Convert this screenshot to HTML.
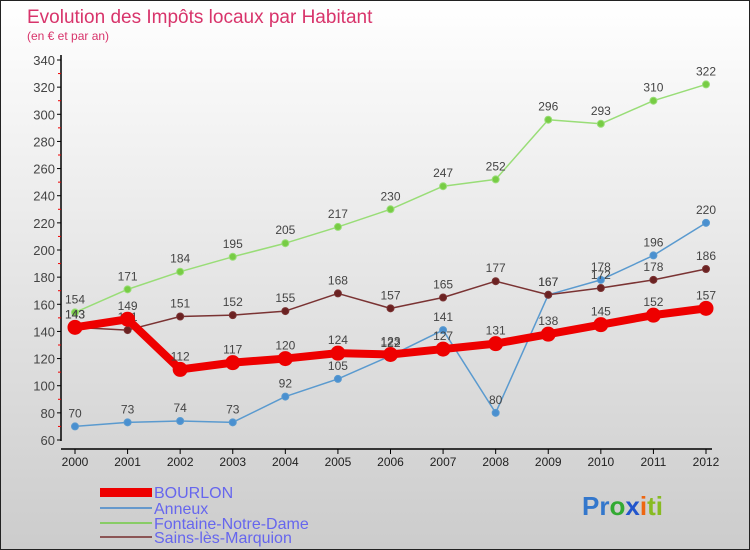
<!DOCTYPE html>
<html><head><meta charset="utf-8"><style>
body{margin:0}
#c{width:750px;height:550px;position:relative;overflow:hidden;font-family:"Liberation Sans",sans-serif}
</style></head><body>
<div id="c">
<svg width="750" height="550" id="svg">
<defs><linearGradient id="bg" x1="0" y1="0" x2="0" y2="1"><stop offset="0" stop-color="#ffffff"/><stop offset="1" stop-color="#cccccc"/></linearGradient></defs>
<rect x="0.5" y="0.5" width="749" height="549" fill="url(#bg)" stroke="#222"/>
<text x="27" y="23" font-size="19" fill="#d8346b">Evolution des Impôts locaux par Habitant</text>
<text x="27" y="40" font-size="12" fill="#d8346b">(en € et par an)</text>
<g id="axes"></g>
<g id="series"></g>
<g font-size="16" fill="#6666ee">
<rect x="100" y="488" width="52" height="9" fill="#ee0000"/>
<text x="154" y="498">BOURLON</text>
<rect x="100" y="507" width="52" height="2" fill="#6699cc"/>
<text x="154" y="514">Anneux</text>
<rect x="100" y="522" width="52" height="2" fill="#88cc66"/>
<text x="154" y="529">Fontaine-Notre-Dame</text>
<rect x="100" y="536" width="52" height="2" fill="#8b5555"/>
<text x="154" y="543">Sains-lès-Marquion</text>
</g>
<g font-size="26" font-weight="bold">
<text x="582" y="515"><tspan fill="#3377cc">Pr</tspan><tspan fill="#33aa33">o</tspan><tspan fill="#2255cc">x</tspan><tspan fill="#ee6611">i</tspan><tspan fill="#88bb22">ti</tspan></text>
</g>
</svg>
</div>
<script>
const years=["2000","2001","2002","2003","2004","2005","2006","2007","2008","2009","2010","2011","2012"];
const bourlon=[143,149,112,117,120,124,123,127,131,138,145,152,157];
const anneux=[70,73,74,73,92,105,122,141,80,167,178,196,220];
const fontaine=[154,171,184,195,205,217,230,247,252,296,293,310,322];
const sains=[143,141,151,152,155,168,157,165,177,167,172,178,186];
const yTicks=[60,80,100,120,140,160,180,200,220,240,260,280,300,320,340];
const NS="http://www.w3.org/2000/svg";
function X(i){return 75+i*(706-75)/(years.length-1);}
function Y(v){return 440-(v-60)*380/280;}
function mk(tag,attrs,parent){const e=document.createElementNS(NS,tag);for(const k in attrs)e.setAttribute(k,attrs[k]);parent.appendChild(e);return e;}
const ax=document.getElementById('axes');
let l=mk('line',{x1:61,y1:55,x2:61,y2:441,stroke:'#000','stroke-width':1.5},ax);


l=mk('line',{x1:61,y1:449,x2:712,y2:449,stroke:'#000','stroke-width':1.5},ax);


yTicks.forEach(v=>{
 const t=mk('line',{x1:57,y1:Y(v),x2:61,y2:Y(v),stroke:'#000'},ax);
 
 
 if(v<340){const m=mk('line',{x1:58,y1:Y(v+10),x2:61,y2:Y(v+10),stroke:'#e00'},ax);
 
 }
 const tx=mk('text',{x:55,y:Y(v)+5,'text-anchor':'end','font-size':13,fill:'#444'},ax);
 tx.textContent=v;
 
 
});
years.forEach((y,i)=>{
 const t=mk('line',{x1:X(i),y1:449,x2:X(i),y2:454,stroke:'#000'},ax);
 
 
 const tx=mk('text',{x:X(i),y:466,'text-anchor':'middle','font-size':12,fill:'#222'},ax);
 tx.textContent=y;
 
 
});
const sg=document.getElementById('series');
function series(data,name,color,dot,w,r){
 const g=mk('g',{},sg);
 
 
 const p=mk('polyline',{points:data.map((v,i)=>X(i)+','+Y(v)).join(' '),fill:'none',stroke:color,'stroke-width':w,'stroke-linejoin':'round'},g);
 
 
 data.forEach((v,i)=>{
  const c=mk('circle',{cx:X(i),cy:Y(v),r:r,fill:dot,stroke:color,'stroke-width':1},g);
  
  
  const t=mk('text',{x:X(i),y:Y(v)-9,'text-anchor':'middle','font-size':12,fill:'#444'},g);
  t.textContent=v;
  
  
 });
}
series(anneux,'anneux','#5a9acf','#4a90d0',1.5,3.5);
series(fontaine,'fontaine','#99dd77','#77cc44',1.5,3.5);
series(sains,'sains','#7a3333','#6b2222',1.5,3.5);
series(bourlon,'bourlon','#ee0000','#ee0000',8,7);
</script>
</body></html>
